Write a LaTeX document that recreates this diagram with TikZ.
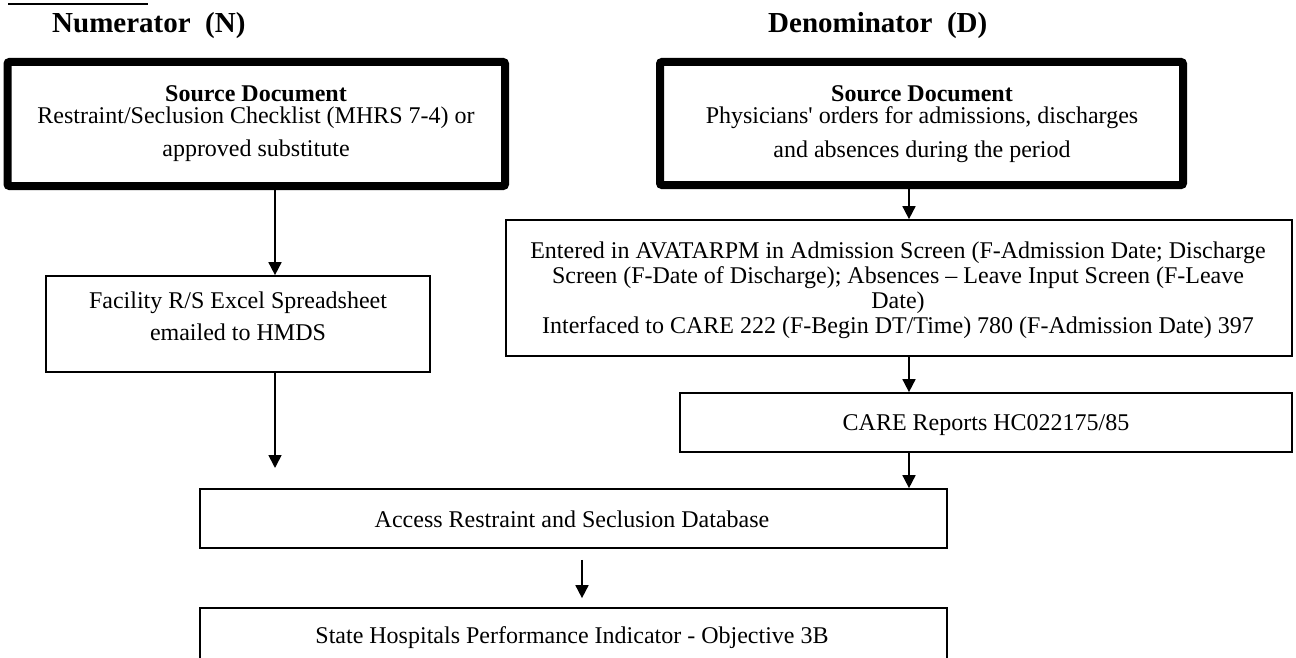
\documentclass[tikz,border=0pt]{standalone}
\usepackage{fontspec}
\setmainfont{Liberation Serif}[Ligatures=TeXOff]
\usetikzlibrary{arrows.meta}
\begin{document}
\begin{tikzpicture}[x=1pt,y=-1pt,
  thinbox/.style={draw, line width=1.7pt, inner sep=0pt},
  thickbox/.style={draw, line width=8pt, rounded corners=2pt, inner sep=0pt},
  body/.style={font=\fontsize{24}{25}\selectfont, align=center, inner sep=0pt, anchor=north},
  head/.style={font=\bfseries\fontsize{29}{32}\selectfont, inner sep=0pt, anchor=base west},
  flow/.style={line width=1.7pt, -{Triangle[width=13pt,length=13pt]}}]
\useasboundingbox (0,0) rectangle (1296,658);
% title underline (text cut off above)
\draw[line width=1.5pt] (8,4) -- (148,4);
\node[head] (numh) at (52,33) {Numerator~~(N)};
\node[head] (denh) at (768,33) {Denominator~~(D)};
% boxes
\node[thickbox, minimum width=497.5pt, minimum height=124pt] (lsrc) at (256.25,124) {};
\node[thickbox, minimum width=523pt, minimum height=123pt] (rsrc) at (921.5,123.5) {};
\node[thinbox, minimum width=384pt, minimum height=96pt] (fac) at (238,324) {};
\node[thinbox, minimum width=786pt, minimum height=136pt] (ent) at (899,288) {};
\node[thinbox, minimum width=612pt, minimum height=59pt] (care) at (986,422.5) {};
\node[thinbox, minimum width=747pt, minimum height=59pt] (acc) at (573.5,518.5) {};
\node[thinbox, minimum width=747pt, minimum height=64pt] (shp) at (573.5,640) {};
% texts
\node[body] (lsrct) at (256,83) {{\bfseries\rule{0pt}{18pt}Source Document}\\[-3pt]Restraint/Seclusion Checklist (MHRS 7-4) or\\[8pt]approved substitute};
\node[body] (rsrct) at (922,83) {{\bfseries\rule{0pt}{18pt}Source Document}\\[-3pt]Physicians' orders for admissions, discharges\\[9pt]and absences during the period};
\node[body] (fact) at (238,290) {\rule{0pt}{18pt}Facility R/S Excel Spreadsheet\\[7pt]emailed to HMDS};
\node[body] (entt) at (898,240) {\rule{0pt}{18pt}Entered in AVATARPM in Admission Screen (F-Admission Date; Discharge\\Screen (F-Date of Discharge); Absences – Leave Input Screen (F-Leave\\Date)\\Interfaced to CARE 222 (F-Begin DT/Time) 780 (F-Admission Date) 397};
\node[body] (caret) at (986,412) {\rule{0pt}{18pt}CARE Reports HC022175/85};
\node[body] (acct) at (572,509) {\rule{0pt}{18pt}Access Restraint and Seclusion Database};
\node[body] (shpt) at (572,625) {\rule{0pt}{18pt}State Hospitals Performance Indicator - Objective 3B};
% connectors
\coordinate (xl) at (275,0);
\coordinate (xr) at (909,0);
\coordinate (xm) at (582,0);
\coordinate (lend) at (275,468);
\draw[flow] (lsrc.south -| xl) -- (fac.north -| xl);
\draw[flow] (fac.south -| xl) -- (lend);
\draw[flow] (rsrc.south -| xr) -- (ent.north -| xr);
\draw[flow] (ent.south -| xr) -- (care.north -| xr);
\draw[flow] (care.south -| xr) -- (acc.north -| xr);
\draw[flow, shorten <=11pt, shorten >=9pt] (acc.south -| xm) -- (shp.north -| xm);
\end{tikzpicture}
\end{document}
